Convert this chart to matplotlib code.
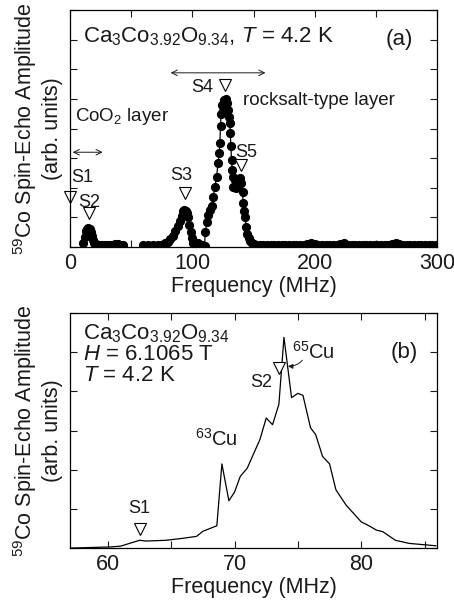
import matplotlib
matplotlib.use("Agg")
import matplotlib.pyplot as plt
from matplotlib.ticker import MultipleLocator, NullFormatter

plt.rcParams['font.family'] = ['Liberation Sans', 'DejaVu Sans']
plt.rcParams['mathtext.fontset'] = 'custom'
plt.rcParams['mathtext.rm'] = 'Liberation Sans'
plt.rcParams['mathtext.it'] = 'Liberation Sans:italic'

# (a) zero-field spectrum, low-frequency part (CoO2 layer)
freq_a1 = [11, 12, 13, 14, 15, 16, 17, 18, 19, 20, 21, 23, 25, 27, 29, 31,
           33, 35, 37, 39, 41, 43]
amp_a1 = [0.15, 0.35, 0.55, 0.62, 0.65, 0.6, 0.5, 0.38, 0.25, 0.14, 0.1, 0.08,
          0.07, 0.08, 0.06, 0.07, 0.08, 0.07, 0.09, 0.1, 0.08, 0.07]

# (a) zero-field spectrum, 60-152 MHz (S3, S4, S5)
freq_a2 = [60, 62, 64, 66, 68, 70, 72, 74, 76, 78, 80, 82, 84, 86, 88, 90,
           91.5, 92.5, 93.5, 94.5, 95.5, 96.5, 97.5, 98.5, 99.5, 100.5,
           102, 105, 108, 110,
           110.5, 112, 113, 114.5, 115.8, 117, 118.5, 119.8,
           121, 122, 122.5, 123, 123.5, 124, 125, 125.5, 126.5, 127.5, 128.5,
           129.3, 130, 130.7, 131, 131.5, 132, 132.5, 133, 133.5, 134.5, 135.5,
           136, 137, 138, 139, 140, 141, 141.6, 142.3, 143, 144, 145, 146, 147,
           148.5, 150, 152]
amp_a2 = [0.06, 0.05, 0.06, 0.05, 0.06, 0.05, 0.06, 0.07, 0.08, 0.12, 0.18,
          0.26, 0.36, 0.55, 0.72, 0.88,
          1.05, 1.2, 1.25, 1.22, 1.15, 1.02, 0.75, 0.5, 0.3, 0.15,
          0.1, 0.13, 0.08, 0.05,
          0.5, 0.85, 1.08, 1.25, 1.4, 1.7, 2.04, 2.37,
          2.83, 3.17, 3.5, 4.1, 4.5, 4.8, 4.6, 4.95, 4.75, 5.0, 4.85,
          4.63, 4.4, 4.18, 3.84, 3.4, 2.94, 2.6, 2.35, 2.04, 2.25, 2.0,
          2.26, 2.1, 2.3, 2.32, 2.15, 1.85, 1.48, 1.2, 1.02, 0.69, 0.45, 0.3,
          0.2, 0.15, 0.1, 0.07]

# (a) zero-field spectrum, flat tail 155-299 MHz
freq_a3 = [155, 158, 161, 164, 167, 170, 173,
           176, 179, 182, 185, 188, 191, 194,
           197, 200, 203, 206, 209, 212, 215,
           218, 221, 224, 227, 230, 233, 236,
           239, 242, 245, 248, 251, 254, 257,
           260, 263, 266, 269, 272, 275, 278,
           281, 284, 287, 290, 293, 296, 299]
amp_a3 = [0.06, 0.07, 0.06, 0.07, 0.06, 0.07, 0.06,
          0.07, 0.06, 0.08, 0.07, 0.06, 0.07, 0.09,
          0.12, 0.1, 0.07, 0.06, 0.07, 0.08, 0.06,
          0.07, 0.1, 0.12, 0.08, 0.07, 0.06, 0.07,
          0.06, 0.07, 0.06, 0.07, 0.06, 0.07, 0.06,
          0.08, 0.1, 0.12, 0.09, 0.07, 0.06, 0.07,
          0.06, 0.07, 0.08, 0.06, 0.07, 0.06, 0.07]

# (b) field-swept spectrum at H = 6.1065 T
freq_b = [57.0, 60.2, 61.0, 62.5, 63.0, 64.6, 65.9, 67.0, 67.5, 68.6, 69.0,
          69.55, 70.0, 70.45, 71.0, 72.0, 72.5, 73.0, 73.5, 73.9, 74.5, 75.0,
          75.4, 76.0, 76.4, 76.95, 77.5, 78.0, 78.8, 80.0, 80.5, 81.2, 81.7,
          82.7, 83.8, 85.9]
amp_b = [0.0, 0.03, 0.05, 0.2, 0.18, 0.2, 0.25, 0.3, 0.43, 0.57, 2.15, 1.21,
         1.43, 1.83, 2.04, 2.77, 3.32, 3.15, 3.67, 5.38, 3.84, 3.95, 3.9, 3.07,
         2.9, 2.34, 2.15, 1.49, 1.1, 0.67, 0.59, 0.46, 0.42, 0.2, 0.12, 0.06]

# site markers (position, height of the open triangle)
sites_a = {'S1': (0, 1.69), 'S2': (15.5, 1.15), 'S3': (94, 1.82),
           'S4': (127, 5.47), 'S5': (139.5, 2.77)}
sites_b = {'S1': (62.5, 0.5), 'S2': (73.5, 4.6)}

fig = plt.figure(figsize=(4.54, 6.07), dpi=100)
ax1 = fig.add_axes([0.154, 0.593, 0.809, 0.3905])
ax2 = fig.add_axes([0.154, 0.097, 0.809, 0.3873])

ink = '#1a1a1a'

# ---- panel (a)
ax1.plot(freq_a1, amp_a1, '-o', color='k', lw=0.9, ms=5.6, mfc='k', mec='k')
ax1.plot(freq_a2 + freq_a3, amp_a2 + amp_a3, '-o', color='k', lw=0.9, ms=5.6,
         mfc='k', mec='k')
ax1.set_xlim(0, 300)
ax1.set_ylim(0, 8)
ax1.xaxis.set_major_locator(MultipleLocator(100))
ax1.xaxis.set_minor_locator(MultipleLocator(50))
ax1.yaxis.set_major_locator(MultipleLocator(1))
ax1.yaxis.set_major_formatter(NullFormatter())

for name, (x, y) in sites_a.items():
    ax1.plot(x, y, 'v', ms=8, mfc='white', mec='k', mew=0.8, clip_on=False)
ax1.text(1.2, 2.36, 'S1', fontsize=13, ha='left', va='center', color=ink)
ax1.text(15.5, 1.52, 'S2', fontsize=13, ha='center', va='center', color=ink)
ax1.text(90.5, 2.4, 'S3', fontsize=13, ha='center', va='center', color=ink)
ax1.text(108, 5.37, 'S4', fontsize=13, ha='center', va='center', color=ink)
ax1.text(144, 3.18, 'S5', fontsize=13, ha='center', va='center', color=ink)

ax1.annotate('', xy=(0, 3.2), xytext=(29, 3.2),
             arrowprops=dict(arrowstyle='<->', lw=0.7, color=ink))
ax1.annotate('', xy=(80, 5.88), xytext=(162, 5.88),
             arrowprops=dict(arrowstyle='<->', lw=0.7, color=ink))
ax1.text(4, 4.4, 'CoO$_2$ layer', fontsize=13.5, ha='left', va='center',
         color=ink)
ax1.text(141, 4.95, 'rocksalt-type layer', fontsize=13.5, ha='left',
         va='center', color=ink)
ax1.text(11, 7.1, 'Ca$_3$Co$_{3.92}$O$_{9.34}$, $T$ = 4.2 K', fontsize=16,
         ha='left', va='center', color=ink)
ax1.text(269, 7.0, '(a)', fontsize=16, ha='center', va='center', color=ink)

ax1.set_xlabel('Frequency (MHz)', fontsize=15.5, labelpad=2, color=ink)
ax1.set_ylabel('$^{59}$Co Spin-Echo Amplitude\n(arb. units)', fontsize=15.5,
               labelpad=1, color=ink, linespacing=1.2)

# ---- panel (b)
ax2.plot(freq_b, amp_b, '-', color='k', lw=0.9)
ax2.set_xlim(57, 86)
ax2.set_ylim(0, 6)
ax2.xaxis.set_major_locator(MultipleLocator(10))
ax2.xaxis.set_minor_locator(MultipleLocator(5))
ax2.yaxis.set_major_locator(MultipleLocator(1))
ax2.yaxis.set_major_formatter(NullFormatter())

for name, (x, y) in sites_b.items():
    ax2.plot(x, y, 'v', ms=8, mfc='white', mec='k', mew=0.8)
ax2.text(62.5, 1.02, 'S1', fontsize=13, ha='center', va='center', color=ink)
ax2.text(72.1, 4.23, 'S2', fontsize=13, ha='center', va='center', color=ink)
ax2.text(66.9, 2.8, '$^{63}$Cu', fontsize=14.5, ha='left', va='center',
         color=ink)
ax2.text(74.5, 5.0, '$^{65}$Cu', fontsize=14.5, ha='left', va='center',
         color=ink)
ax2.annotate('', xy=(74.0, 4.65), xytext=(75.5, 4.85),
             arrowprops=dict(arrowstyle='-|>', lw=0.7, color=ink,
                             mutation_scale=7,
                             connectionstyle='arc3,rad=-0.3'))
ax2.text(58.0, 4.95, 'Ca$_3$Co$_{3.92}$O$_{9.34}$\n$H$ = 6.1065 T\n$T$ = 4.2 K',
         fontsize=16, ha='left', va='center', color=ink, linespacing=0.95)
ax2.text(83.4, 5.0, '(b)', fontsize=16, ha='center', va='center', color=ink)

ax2.set_xlabel('Frequency (MHz)', fontsize=15.5, labelpad=2, color=ink)
ax2.set_ylabel('$^{59}$Co Spin-Echo Amplitude\n(arb. units)', fontsize=15.5,
               labelpad=1, color=ink, linespacing=1.2)

for ax in (ax1, ax2):
    ax.tick_params(which='both', direction='in', top=True, right=True,
                   length=5, width=0.8, labelsize=15.5, pad=4, colors=ink)
    for s in ax.spines.values():
        s.set_linewidth(0.9)

fig.savefig('out.png', dpi=100)
